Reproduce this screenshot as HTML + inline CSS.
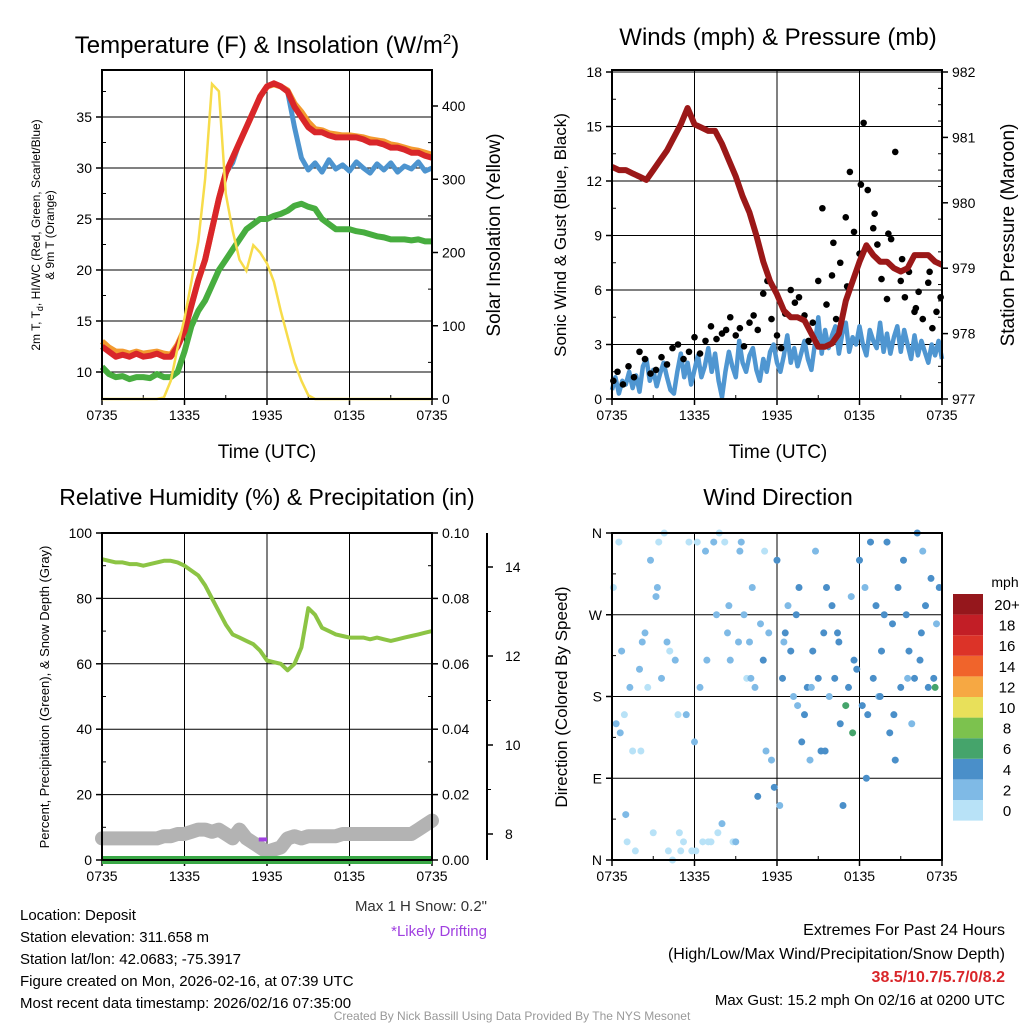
<!DOCTYPE html>
<html><head><meta charset="utf-8"><style>
body{margin:0;background:#fff;}
svg{display:block;font-family:"Liberation Sans",sans-serif;}
</style></head><body>
<svg id="fig" width="1024" height="1024" viewBox="0 0 1024 1024"></svg>
<script>
// ---------- DATA ----------
const xTicks=["0735","1335","1935","0135","0735"];
const tempRed=[12.5,12,11.5,11.7,11.5,11.8,11.5,11.6,11.8,11.5,11.5,12.5,14,16.5,19,21,24,27,29.5,31,32.5,34,35.5,37,38,38.3,38,37.5,36,35,34,33.5,33.5,33.2,33,33,33,33,32.8,32.5,32.5,32.3,32,32,31.8,31.5,31.5,31.2,31];
const tempOrange=[13,12.4,12,12,11.8,12,11.8,11.9,12,11.8,11.7,12.7,14.2,16.6,19,21,24,27,29.5,31,32.5,34,35.5,37,38,38.2,38,37.6,36.3,35.5,34.5,33.8,33.7,33.4,33.3,33.2,33.2,33.1,33,32.8,32.7,32.6,32.3,32.2,32,31.8,31.7,31.5,31.3];
const tempGreen=[10.5,9.8,9.5,9.6,9.3,9.5,9.5,9.4,9.8,9.5,9.5,10,12,14.5,16,17,18.5,20,21,22,23,24,24.5,25,25,25.3,25.5,25.8,26.3,26.5,26.2,26,25,24.5,24,24,24,23.8,23.7,23.5,23.3,23.2,23,23,23,22.9,23,22.8,22.8];
const tempBlue=[12.5,12,11.5,11.7,11.5,11.8,11.5,11.6,11.8,11.5,11.5,12.5,14,16.5,19,21,24,27,29.5,30.5,32.5,34,35.5,37,38,38.3,38,37.5,34,31,29.8,30.5,29.6,30.8,29.9,30.3,29.7,30.6,30,29.5,30.4,29.8,30.5,29.6,30.2,29.9,30.6,29.7,30];
const insol=[0,0,0,0,0,0,0,0,0,2,25,70,110,160,215,300,430,420,280,230,190,175,210,200,185,160,120,85,50,25,5,0,0,0,0,0,0,0,0,0,0,0,0,0,0,0,0,0,0];
const pressure=[980.55,980.5,980.5,980.45,980.4,980.35,980.5,980.65,980.8,981.0,981.2,981.45,981.2,981.15,981.1,981.1,980.9,980.65,980.4,980.1,979.85,979.5,979.1,978.8,978.6,978.35,978.25,978.25,978.2,978.0,977.8,977.8,977.85,978.0,978.5,978.8,979.1,979.35,979.2,979.1,979.1,979.0,978.95,979.0,979.2,979.2,979.2,979.1,979.05];
const wind=[0.5,1.2,0.3,1.0,0.8,1.5,0.6,1.3,0.4,1.8,2.2,1.0,1.6,0.7,1.4,2.0,1.2,0.5,0.3,1.5,2.5,1.2,2.0,0.8,1.6,2.4,1.2,1.8,2.8,1.5,2.5,1.0,0.1,1.5,2.6,1.8,1.2,3.2,2.0,1.5,2.4,2.8,1.6,1.0,2.2,1.5,2.6,3.0,2.0,1.5,2.4,3.5,2.0,2.8,1.8,2.5,3.2,2.2,1.6,3.0,4.5,2.5,3.8,2.8,3.5,4.0,2.5,3.6,4.2,2.6,3.4,3.0,4.0,3.0,2.4,3.8,3.2,2.8,4.2,2.6,3.6,2.5,3.4,4.0,2.6,3.8,3.0,2.2,3.5,2.4,3.2,2.6,2.0,3.0,2.4,3.2,2.2];
const gustHours=[0.1,0.4,0.8,1.2,1.6,2.0,2.4,2.8,3.2,3.6,4.0,4.4,4.8,5.2,5.6,6.0,6.4,6.8,7.2,7.6,8.0,8.3,8.6,9.0,9.3,9.6,10.0,10.3,10.6,11.0,11.3,11.6,12.0,12.3,12.6,13.0,13.3,13.6,14.0,14.3,14.6,15.0,15.3,15.6,16.0,16.3,16.6,17.0,17.3,17.6,18.0,18.3,18.6,19.0,19.3,19.6,20.0,20.3,20.6,21.0,21.3,21.6,22.0,22.3,22.6,23.0,23.3,23.6,23.9,16.1,17.1,18.1,19.1,20.1,21.1,22.1,23.1];
const gustVals=[1.0,1.5,0.8,1.8,1.2,2.6,2.2,1.4,1.6,2.3,1.9,2.8,3.0,2.2,2.6,3.4,2.5,3.2,4.0,3.3,3.6,3.8,4.5,3.5,3.9,2.9,4.2,4.6,3.8,5.8,6.5,4.4,3.5,2.8,4.7,6.0,5.3,5.6,4.6,3.2,4.2,6.5,10.5,5.2,6.8,4.4,7.5,10.0,12.5,9.2,8.0,15.2,11.5,9.4,8.5,6.6,5.5,8.8,13.6,6.5,5.6,7.0,4.8,5.9,4.4,6.4,3.9,4.8,5.6,8.6,6.2,11.8,10.2,9.1,7.7,5.0,7.0];
const rh=[92,91.5,91,91,90.5,90.5,90,90.5,91,91.5,91.5,91,90,88.5,87,84,80,76,72,69,68,67,66,64,61,60.5,60,58,60,65,77,75,71,70,69,68.5,68,68,68,67.5,68,67.5,67,67.5,68,68.5,69,69.5,70];
const snow=[7.9,7.9,7.9,7.9,7.9,7.9,7.9,7.9,7.9,7.95,7.95,8.0,8.0,8.05,8.1,8.1,8.05,8.1,8.0,7.9,8.1,7.9,7.8,7.7,7.6,7.65,7.7,7.9,7.95,7.9,7.95,7.95,7.95,7.95,7.95,8.0,8.0,8.0,8.0,8.0,8.0,8.0,8.0,8.0,8.0,8.0,8.1,8.2,8.3];
const precip=[0,0];
const dirHours=[0.1,0.3,0.5,0.7,0.9,1.1,1.3,1.5,1.7,2.0,2.2,2.4,2.6,2.8,3.0,3.2,3.4,3.6,3.8,4.0,4.2,4.4,4.6,4.8,5.0,5.2,5.4,5.6,5.8,6.0,6.2,6.4,6.6,6.8,7.0,7.2,7.4,7.6,7.8,8.0,8.2,8.4,8.6,8.8,9.0,9.2,9.4,9.6,9.8,10.0,10.2,10.4,10.6,10.8,11.0,11.2,11.4,11.6,11.8,12.0,12.2,12.4,12.6,12.8,13.0,13.2,13.4,13.6,13.8,14.0,14.2,14.4,14.6,14.8,15.0,15.2,15.4,15.6,15.8,16.0,16.2,16.4,16.6,16.8,17.0,17.2,17.4,17.6,17.8,18.0,18.2,18.4,18.6,18.8,19.0,19.2,19.4,19.6,19.8,20.0,20.2,20.4,20.6,20.8,21.0,21.2,21.4,21.6,21.8,22.0,22.2,22.4,22.6,22.8,23.0,23.2,23.4,23.6,23.8,0.6,1.0,2.1,3.3,4.1,4.9,6.1,6.9,7.7,8.5,9.3,10.1,11.1,12.5,13.5,14.5,15.5,16.5,17.5,18.5,19.5,20.5,21.5,22.5,23.5];
const dirVals=[300,150,350,230,160,20,190,120,10,210,240,250,190,330,30,290,350,200,360,240,230,0,220,160,10,20,160,350,10,130,350,190,20,340,20,20,350,270,360,40,350,250,220,20,20,240,350,270,200,240,300,190,70,260,220,120,250,110,80,330,60,200,250,280,230,180,270,300,130,160,190,110,230,340,200,120,250,300,180,280,200,250,150,60,170,190,290,220,210,330,170,300,160,350,200,280,180,230,270,350,140,260,110,300,190,330,270,230,150,200,360,220,340,280,190,310,200,260,300,140,50,120,300,10,30,10,220,30,280,340,200,340,240,170,190,120,240,140,90,180,160,200,250,190,290];
const dirSpeed=[1,2.5,1,2.5,1,1,2.5,1,1,2.5,2.5,2.5,1,2.5,1,2.5,1,2.5,1,2.5,1,1,2.5,1,1,1,2.5,1,1,2.5,1,2.5,1,3.5,1,1,2.5,3.5,1,2.5,1,3.5,2.5,1,2.5,3.5,2.5,3.5,1,3.5,2.5,2.5,4.5,3.5,4.5,2.5,3.5,3.5,4.5,4.5,3.5,4.5,4.5,3.5,4.5,3.5,4.5,4.5,5.5,5.5,4.5,3.5,4.5,3.5,5.5,4.5,5.5,4.5,3.5,5.5,4.5,5.5,4.5,4.5,6.5,4.5,3.5,5.5,4.5,4.5,4.5,3.5,5.5,5.5,4.5,5.5,3.5,5.5,4.5,4.5,4.5,5.5,4.5,4.5,5.5,4.5,5.5,4.5,3.5,5.5,4.5,4.5,3.5,4.5,4.5,4.5,4.5,3.5,4.5,3.5,2.5,1,2.5,1,1,1,2.5,1,2.5,2.5,2.5,1,2.5,3.5,3.5,4.5,4.5,6.8,4.5,4.5,5.5,3.5,4.5,6.8,4.5];

// ---------- HELPERS ----------
const NS="http://www.w3.org/2000/svg";
const fig=document.getElementById('fig');
function el(tag,attrs,parent){const e=document.createElementNS(NS,tag);for(const k in attrs)e.setAttribute(k,attrs[k]);(parent||fig).appendChild(e);return e;}
function txt(x,y,s,size,opts){opts=opts||{};const t=el('text',{x:x,y:y,'font-size':size,'text-anchor':opts.anchor||'middle',fill:opts.fill||'#000'});if(opts.rot)t.setAttribute('transform','rotate(-90 '+x+' '+y+')');if(opts.weight)t.setAttribute('font-weight',opts.weight);t.textContent=s;return t;}
function lin(d0,d1,r0,r1){return v=>r0+(v-d0)/(d1-d0)*(r1-r0);}
function linePath(xs,ys,xf,yf){let d='';xs.forEach((x,i)=>{d+=(i?'L':'M')+xf(x).toFixed(1)+','+yf(ys[i]).toFixed(1);});return d;}
function idx(n,span){return Array.from({length:n},(_,i)=>i*span/(n-1));}

function frame(x0,y0,x1,y1,nameBase){
  for(let i=1;i<4;i++){const x=x0+(x1-x0)*i/4;const g=el('line',{x1:x,y1:y0,x2:x,y2:y1,stroke:'#000','stroke-width':1});}
  xTicks.forEach((t,i)=>{const x=x0+(x1-x0)*i/4;const l=txt(x,y1+21,t,14);
    el('line',{x1:x,y1:y1,x2:x,y2:y1+6,stroke:'#000','stroke-width':1.5});});
  for(let i=0;i<=8;i++){const x=x0+(x1-x0)*i/8;el('line',{x1:x,y1:y1,x2:x,y2:y1-4,stroke:'#000','stroke-width':1});}
}
function border(x0,y0,x1,y1,name){const r=el('rect',{x:x0,y:y0,width:x1-x0,height:y1-y0,fill:'none',stroke:'#000','stroke-width':2});}
function yAxis(x0,x1,ticks,yf,labels,side,grid,minor){
  ticks.forEach((v,i)=>{const y=yf(v);
    if(grid){el('line',{x1:x0,y1:y,x2:x1,y2:y,stroke:'#000','stroke-width':1});}
    const ax=side==='left'?x0:x1;const dir=side==='left'?-1:1;
    el('line',{x1:ax,y1:y,x2:ax+dir*6,y2:y,stroke:'#000','stroke-width':1.5});
    const l=txt(ax+dir*10,y+5,labels[i],14,{anchor:side==='left'?'end':'start'});
    
  });
  if(minor)minor.forEach(v=>{const y=yf(v);const ax=side==='left'?x0:x1;const dir=side==='left'?1:-1;el('line',{x1:ax,y1:y,x2:ax+dir*4,y2:y,stroke:'#000','stroke-width':1});});
}

// ---------- PANEL 1 ----------
{
const X0=102,X1=432,Y0=70,Y1=399;
const xs=lin(0,24,X0,X1), yT=lin(10,35,372,117), yS=lin(0,400,399,106);
const T=txt(267,53,'',24);
T.innerHTML='Temperature (F) &amp; Insolation (W/m<tspan dy="-9" font-size="15">2</tspan><tspan dy="9">)</tspan>';
frame(X0,Y0,X1,Y1,'temp');
yAxis(X0,X1,[10,15,20,25,30,35],yT,['10','15','20','25','30','35'],'left',true,[12.5,17.5,22.5,27.5,32.5,37.5]);
yAxis(X0,X1,[0,100,200,300,400],yS,['0','100','200','300','400'],'right',false,[50,150,250,350]);
const h=idx(49,24);
const series=[[tempBlue,'#4d94cf',5,'temp-blue-line'],[tempGreen,'#47ad3f',6,'temp-green-line'],[tempOrange,'#f39a2f',6,'temp-orange-line'],[tempRed,'#d9262a',6,'temp-red-line']];
series.forEach(s=>{const p=el('path',{d:linePath(h,s[0],xs,yT),fill:'none',stroke:s[1],'stroke-width':s[2],'stroke-linejoin':'round'});});
const pi=el('path',{d:linePath(h,insol,xs,yS),fill:'none',stroke:'#f7dc4a','stroke-width':2.5});
border(X0,Y0,X1,Y1,'temp-plot-frame');
const yl=el('text',{x:40,y:235,'font-size':12,'text-anchor':'middle',transform:'rotate(-90 40 235)'});
yl.innerHTML='2m T, T<tspan dy="3" font-size="9">d</tspan><tspan dy="-3">, HI/WC (Red, Green, Scarlet/Blue)</tspan>';
const yl2=txt(54,235,'& 9m T (Orange)',12,{rot:1});
const yr=txt(500,235,'Solar Insolation (Yellow)',19,{rot:1});
const xt=txt(267,458,'Time (UTC)',19);
}

// ---------- PANEL 2 ----------
{
const X0=612,X1=942,Y0=70,Y1=399;
const xs=lin(0,24,X0,X1), yW=lin(0,18,399,72), yP=lin(977,982,399,72);
const T=txt(778,45,'Winds (mph) & Pressure (mb)',24);
frame(X0,Y0,X1,Y1,'wind');
yAxis(X0,X1,[0,3,6,9,12,15,18],yW,['0','3','6','9','12','15','18'],'left',true,[1.5,4.5,7.5,10.5,13.5,16.5]);
yAxis(X0,X1,[977,978,979,980,981,982],yP,['977','978','979','980','981','982'],'right',false,[977.25,977.5,977.75,978.25,978.5,978.75,979.25,979.5,979.75,980.25,980.5,980.75,981.25,981.5,981.75]);
const pw=el('path',{d:linePath(idx(97,24),wind,xs,yW),fill:'none',stroke:'#4f96d1','stroke-width':4.5,'stroke-linejoin':'round'});
gustHours.forEach((g,i)=>{const c=el('circle',{cx:xs(g),cy:yW(gustVals[i]),r:3.3,fill:'#000'});});
const pp=el('path',{d:linePath(idx(49,24),pressure,xs,yP),fill:'none',stroke:'#9b1818','stroke-width':6,'stroke-linejoin':'round'});
border(X0,Y0,X1,Y1,'wind-plot-frame');
const yl=txt(566,235,'Sonic Wind & Gust (Blue, Black)',17,{rot:1});
const yr=txt(1014,235,'Station Pressure (Maroon)',19,{rot:1});
const xt=txt(778,458,'Time (UTC)',19);
}

// ---------- PANEL 3 ----------
{
const X0=102,X1=432,Y0=533,Y1=860;
const xs=lin(0,24,X0,X1), yR=lin(0,100,860,533), yPr=lin(0,0.1,860,533), yS=lin(8,14,834,567);
const T=txt(267,505,'Relative Humidity (%) & Precipitation (in)',23);
frame(X0,Y0,X1,Y1,'rh');
yAxis(X0,X1,[0,20,40,60,80,100],yR,['0','20','40','60','80','100'],'left',true,[10,30,50,70,90]);
yAxis(X0,X1,[0,0.02,0.04,0.06,0.08,0.1],yPr,['0.00','0.02','0.04','0.06','0.08','0.10'],'right',false,[0.01,0.03,0.05,0.07,0.09]);
const ax=el('line',{x1:487,y1:533,x2:487,y2:860,stroke:'#000','stroke-width':2});
[8,10,12,14].forEach(v=>{const y=yS(v);el('line',{x1:487,y1:y,x2:493,y2:y,stroke:'#000','stroke-width':1.5});const l=txt(505,y+5,String(v),14,{anchor:'start'});});
[9,11,13].forEach(v=>{const y=yS(v);el('line',{x1:487,y1:y,x2:491,y2:y,stroke:'#000','stroke-width':1});});
const ps=el('path',{d:linePath(idx(49,24),snow,xs,yS),fill:'none',stroke:'#b3b3b3','stroke-width':14,'stroke-linecap':'round','stroke-linejoin':'round'});
const pu=el('line',{x1:xs(11.4),y1:yS(7.9)+1,x2:xs(12.0),y2:yS(7.9)+1,stroke:'#a040e0','stroke-width':4});
const pr=el('path',{d:linePath([0,24],precip,xs,yPr),fill:'none',stroke:'#3aa846','stroke-width':8});
const ph=el('path',{d:linePath(idx(49,24),rh,xs,yR),fill:'none',stroke:'#8cc444','stroke-width':4,'stroke-linejoin':'round'});
border(X0,Y0,X1,Y1,'rh-plot-frame');
const yl=txt(49,697,'Percent, Precipitation (Green), & Snow Depth (Gray)',13,{rot:1});
const m=txt(487,911,'Max 1 H Snow: 0.2"',15,{anchor:'end',fill:'#333'});
const d=txt(487,936,'*Likely Drifting',15,{anchor:'end',fill:'#a040e0'});
}

// ---------- PANEL 4 ----------
{
const X0=612,X1=942,Y0=533,Y1=860;
const xs=lin(0,24,X0,X1), yD=lin(0,360,860,533);
const colors=['#b8e2f7','#7fbae6','#4a8fc9','#45a46b','#7cc24e','#e8e05a','#f6a843','#f0642b','#dc3328','#c21e26','#95171c'];
const T=txt(778,505,'Wind Direction',23);
frame(X0,Y0,X1,Y1,'dir');
yAxis(X0,X1,[0,90,180,270,360],yD,['N','E','S','W','N'],'left',true,[45,135,225,315]);
dirHours.forEach((hh,i)=>{const bin=Math.min(10,Math.floor(dirSpeed[i]/2));const c=el('circle',{cx:xs(hh),cy:yD(dirVals[i]),r:3.5,fill:colors[bin]});});
border(X0,Y0,X1,Y1,'dir-plot-frame');
const yl=txt(567,697,'Direction (Colored By Speed)',17,{rot:1});
const lab=['0','2','4','6','8','10','12','14','16','18','20+'];
const u=txt(1005,587,'mph',14);
lab.forEach((s,i)=>{const y=800-i*20.6;const r=el('rect',{x:953,y:y,width:30,height:20.6,fill:colors[i]});
  const l=txt(1007,y+16,s,15);});
}

// ---------- TEXT ----------
const info=['Location: Deposit','Station elevation: 311.658 m','Station lat/lon: 42.0683; -75.3917','Figure created on Mon, 2026-02-16, at 07:39 UTC','Most recent data timestamp: 2026/02/16 07:35:00'];
info.forEach((s,i)=>{const t=txt(20,920+i*22,s,15,{anchor:'start'});});
const e1=txt(1005,935,'Extremes For Past 24 Hours',16,{anchor:'end'});
const e2=txt(1005,959,'(High/Low/Max Wind/Precipitation/Snow Depth)',16,{anchor:'end'});
const e3=txt(1005,982,'38.5/10.7/5.7/0/8.2',16,{anchor:'end',fill:'#d9262a',weight:'bold'});
const e4=txt(1005,1005,'Max Gust: 15.2 mph On 02/16 at 0200 UTC',15,{anchor:'end'});
const f=txt(512,1020,'Created By Nick Bassill Using Data Provided By The NYS Mesonet',12,{fill:'#999'});
</script>
</body></html>
